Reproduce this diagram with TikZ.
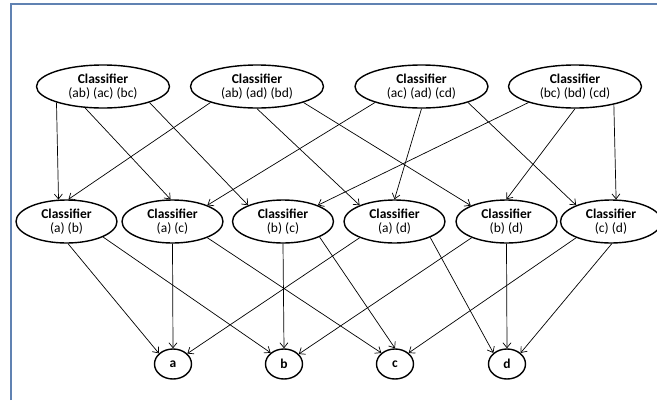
\documentclass[tikz,border=0pt]{standalone}
\usepackage{fontspec}
\setmainfont{Carlito}
\usetikzlibrary{arrows.meta,shapes.geometric}
\definecolor{frameblue}{RGB}{96,130,178}
\newcommand{\clf}[1]{\textbf{Classifier}\\#1}
\tikzset{
  pairclf/.style={ellipse,draw,line width=1.4pt,minimum width=133pt,minimum height=43pt,inner sep=0pt,align=center},
  singleclf/.style={pairclf,minimum width=101pt},
  leafnode/.style={ellipse,draw,line width=1.4pt,minimum width=37pt,minimum height=30pt,inner sep=0pt,font=\fontsize{13.5}{13.5}\selectfont\bfseries}
}

\begin{document}
\begin{tikzpicture}[x=1pt,y=-1pt,>={Straight Barb[length=5pt,width=8pt]},font=\fontsize{13.5}{13.5}\selectfont]
        \useasboundingbox (0,0) rectangle (657,400);
        \draw[frameblue,line width=2.5pt] (11,400) -- (11,4) -- (657,4);
        % Top row: one classifier per triple of letters.
        \node[pairclf] (abc) at (103,86.5) {\clf{(ab) (ac) (bc)}};
        \node[pairclf] (abd) at (257,86.5) {\clf{(ab) (ad) (bd)}};
        \node[pairclf] (acd) at (421.5,86.5) {\clf{(ac) (ad) (cd)}};
        \node[pairclf] (bcd) at (575,86.5) {\clf{(bc) (bd) (cd)}};
        % Middle row: one classifier per pair.
        \node[singleclf] (ab) at (66.5,221.5) {\clf{(a) (b)}};
        \node[singleclf] (ac) at (172.5,221.5) {\clf{(a) (c)}};
        \node[singleclf] (bc) at (283,221.5) {\clf{(b) (c)}};
        \node[singleclf] (ad) at (394.5,221.5) {\clf{(a) (d)}};
        \node[singleclf] (bd) at (506.5,221.5) {\clf{(b) (d)}};
        \node[singleclf] (cd) at (611,221.5) {\clf{(c) (d)}};
        % Bottom row: the single letters.
        \node[leafnode] (a) at (173,364) {a};
        \node[leafnode] (b) at (284,364) {b};
        \node[leafnode] (c) at (395,364) {c};
        \node[leafnode] (d) at (507,364) {d};
        \path[->,line width=0.7pt]
          (abc.-161) edge (ab.110)
          (abc.-130) edge (ac.95)
          (abc.-19) edge (bc.155)
          (abd.-161) edge (ab.85)
          (abd.-90) edge (ad.155)
          (abd.-19) edge (bd.156)
          (acd.-161) edge (ac.25)
          (acd.-90) edge (ad.90)
          (acd.-19) edge (cd.155)
          (bcd.-161) edge (bc.25)
          (bcd.-90) edge (bd.90)
          (bcd.-25) edge (cd.77)
          (ab.-86) edge (a.143)
          (ab.-23) edge (b.140)
          (ac.-90) edge (a.90)
          (ac.-25) edge (c.141)
          (bc.-90) edge (b.90)
          (bc.-23) edge (c.90)
          (ad.-155) edge (a.36)
          (ad.-24) edge (d.141)
          (bd.-155) edge (b.34)
          (bd.-90) edge (d.90)
          (cd.-155) edge (c.39)
          (cd.-88) edge (d.39);
      \end{tikzpicture}
\end{document}
